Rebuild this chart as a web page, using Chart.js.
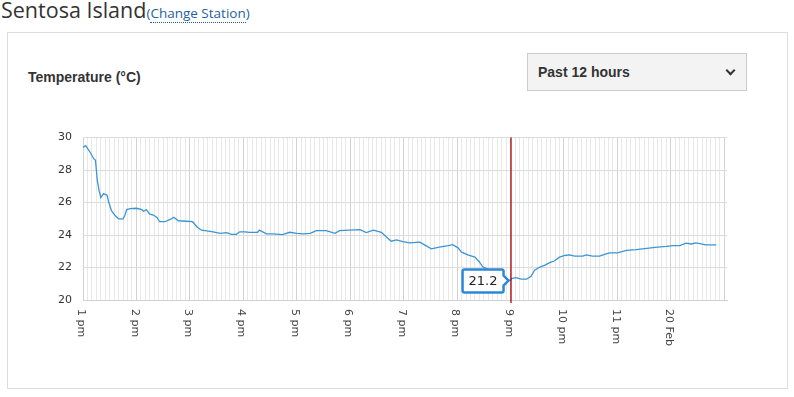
<!DOCTYPE html>
<html>
<head>
<meta charset="utf-8">
<script src="https://cdn.jsdelivr.net/npm/chart.js@4.4.1/dist/chart.umd.min.js"></script>
<style>
  body { margin: 0; background: #fff; width: 794px; height: 397px; overflow: hidden; position: relative; }
  #title { position: absolute; left: 1px; top: -5px; font-family: "Open Sans", sans-serif; font-size: 21.5px; color: #333; }
  #title a { font-size: 13.5px; color: #1f5f9e; text-decoration: none; }
  #title a span { border-bottom: 1px dotted #1f5f9e; }
  #panel { position: absolute; left: 7px; top: 32px; width: 779px; height: 355px; border: 1px solid #ddd; }
  #label { position: absolute; left: 28px; top: 69px; font-family: "Liberation Sans", Arial, sans-serif; font-weight: bold; font-size: 14px; color: #333; }
  #select { position: absolute; left: 527px; top: 53px; width: 218px; height: 36px; border: 1px solid #ccc; background: #f3f3f3;
            font-family: "Liberation Sans", Arial, sans-serif; font-weight: bold; font-size: 14px; color: #333; }
  #select .txt { position: absolute; left: 10px; top: 10px; }
  #select .chev { position: absolute; left: 199px; top: 13px; width: 5px; height: 5px; border-right: 2px solid #333; border-bottom: 2px solid #333; transform: rotate(45deg); }
  #wrap { position: absolute; left: 20px; top: 120px; width: 740px; height: 260px; }
</style>
</head>
<body>
<div id="title">Sentosa Island<a>(<span>Change Station</span>)</a></div>
<div id="panel"></div>
<div id="label">Temperature (°C)</div>
<div id="select"><span class="txt">Past 12 hours</span><span class="chev"></span></div>
<div id="wrap"><canvas id="chart"></canvas></div>
<script>
// minutes after 1 pm
const minutes = [0, 3, 8, 12, 14, 16, 18, 20, 23, 27, 29, 32, 36, 40, 45, 47, 49, 53, 60, 66, 68, 71, 75, 79, 83, 86, 92, 98, 102, 107,
  116, 123, 128, 133, 139, 146, 154, 161, 167, 172, 176, 182, 187, 196, 198, 206, 213, 224, 232, 240, 247, 255, 262, 273, 283, 288,
  299, 311, 318, 326, 335, 341, 346, 352, 359, 367, 378, 385, 391, 400, 410, 415, 421, 425, 432, 440, 445, 449, 453, 462, 468, 473,
  480, 481, 486, 492, 498, 503, 507, 513, 518, 524, 529, 535, 541, 546, 552, 561, 565, 572, 580, 584, 591, 600, 610, 621, 628, 645,
  655, 662, 670, 677, 683, 688, 694, 699, 711];
const temps = [29.4, 29.5, 29.1, 28.7, 28.6, 27.4, 26.75, 26.3, 26.55, 26.45, 26.0, 25.5, 25.2, 25.0, 25.0, 25.2, 25.57, 25.63, 25.65, 25.57, 25.45, 25.57, 25.29, 25.23, 25.08, 24.82, 24.82, 24.96, 25.1, 24.88,
  24.85, 24.82, 24.5, 24.3, 24.25, 24.2, 24.1, 24.15, 24.04, 24.04, 24.2, 24.2, 24.17, 24.17, 24.3, 24.07, 24.07, 24.03, 24.17, 24.1, 24.07, 24.1, 24.27, 24.27, 24.1, 24.27,
  24.3, 24.33, 24.15, 24.3, 24.17, 23.86, 23.62, 23.7, 23.6, 23.52, 23.56, 23.35, 23.15, 23.25, 23.35, 23.41, 23.21, 22.95, 22.78, 22.64, 22.34, 22.03, 21.93, 21.6, 21.5, 21.3,
  21.2, 21.32, 21.38, 21.28, 21.28, 21.46, 21.83, 22.03, 22.13, 22.3, 22.4, 22.64, 22.74, 22.78, 22.7, 22.7, 22.78, 22.7, 22.7, 22.78, 22.9, 22.9, 23.05, 23.1, 23.15, 23.25,
  23.3, 23.35, 23.35, 23.5, 23.45, 23.52, 23.45, 23.4, 23.4];
const hourTicks = [0, 60, 120, 180, 240, 300, 360, 420, 480, 540, 600, 660];
const hourLabels = ['1 pm', '2 pm', '3 pm', '4 pm', '5 pm', '6 pm', '7 pm', '8 pm', '9 pm', '10 pm', '11 pm', '20 Feb'];
const markerMinute = 480;

const points = minutes.map((m, i) => ({ x: m, y: temps[i] }));

// hour labels are turned clockwise, chart.js only turns them the other way
const rotatedLabels = {
  id: 'rotatedLabels',
  afterDraw(chart) {
    const c = chart.ctx;
    const xs = chart.scales.x;
    c.save();
    c.fillStyle = '#444';
    c.font = '11px "DejaVu Sans"';
    c.textAlign = 'left';
    c.textBaseline = 'middle';
    for (let i = 0; i < hourTicks.length; i++) {
      const px = xs.getPixelForValue(hourTicks[i]);
      c.save();
      c.translate(px - 2, chart.chartArea.bottom + 9);
      c.rotate(Math.PI / 2);
      c.fillText(hourLabels[i], 0, 0);
      c.restore();
    }
    c.restore();
  }
};

// red cursor line and the value box
const marker = {
  id: 'marker',
  afterDatasetsDraw(chart) {
    const c = chart.ctx;
    const area = chart.chartArea;
    const idx = minutes.indexOf(markerMinute);
    const px = chart.scales.x.getPixelForValue(markerMinute);
    const py = chart.scales.y.getPixelForValue(temps[idx]);
    c.save();
    c.strokeStyle = '#b00000';
    c.lineWidth = 1.3;
    c.beginPath();
    c.moveTo(Math.round(px), area.top);
    c.lineTo(Math.round(px), area.bottom + 3);
    c.stroke();

    const right = px - 7, left = px - 48, top = py - 11, bottom = py + 12;
    c.beginPath();
    c.moveTo(left + 2, top);
    c.lineTo(right - 2, top);
    c.quadraticCurveTo(right, top, right, top + 2);
    c.lineTo(right, py - 5);
    c.lineTo(px - 2, py);
    c.lineTo(right, py + 5);
    c.lineTo(right, bottom - 2);
    c.quadraticCurveTo(right, bottom, right - 2, bottom);
    c.lineTo(left + 2, bottom);
    c.quadraticCurveTo(left, bottom, left, bottom - 2);
    c.lineTo(left, top + 2);
    c.quadraticCurveTo(left, top, left + 2, top);
    c.closePath();
    c.fillStyle = '#fff';
    c.fill();
    c.strokeStyle = '#2f88d6';
    c.lineWidth = 2.5;
    c.stroke();
    c.fillStyle = '#222';
    c.font = '13px "DejaVu Sans"';
    c.textAlign = 'center';
    c.textBaseline = 'middle';
    c.fillText(temps[idx].toFixed(1), (left + right) / 2, py + 1);
    c.restore();
  }
};

new Chart(document.getElementById('chart'), {
  type: 'line',
  data: {
    datasets: [{
      data: points,
      borderColor: '#3b95d4',
      borderWidth: 1.3,
      pointRadius: 0,
      pointHoverRadius: 0,
      tension: 0,
      fill: false
    }]
  },
  options: {
    responsive: true,
    maintainAspectRatio: false,
    animation: false,
    events: [],
    layout: { padding: { top: 16, right: 33, left: 0, bottom: 0 } },
    plugins: {
      legend: { display: false },
      tooltip: { enabled: false },
      title: { display: false }
    },
    scales: {
      x: {
        type: 'linear',
        min: 0,
        max: 723,
        afterBuildTicks: (scale) => {
          const t = [];
          for (let m = 0; m <= 720; m += 5) t.push({ value: m });
          scale.ticks = t;
        },
        afterFit: (scale) => { scale.height = 80; },
        ticks: { display: false },
        grid: {
          drawTicks: false,
          color: (ctx) => (ctx.tick && ctx.tick.value % 60 === 0) ? '#d2d2d2' : '#e8e8e8',
          lineWidth: 1
        },
        border: { color: '#d2d2d2' }
      },
      y: {
        min: 20,
        max: 30,
        afterFit: (scale) => { scale.width = 63; },
        ticks: {
          stepSize: 2,
          padding: 11,
          color: '#333',
          font: { family: 'DejaVu Sans', size: 11 }
        },
        grid: { drawTicks: false, color: '#dcdcdc' },
        border: { display: false }
      }
    }
  },
  plugins: [rotatedLabels, marker]
});
</script>
</body>
</html>
